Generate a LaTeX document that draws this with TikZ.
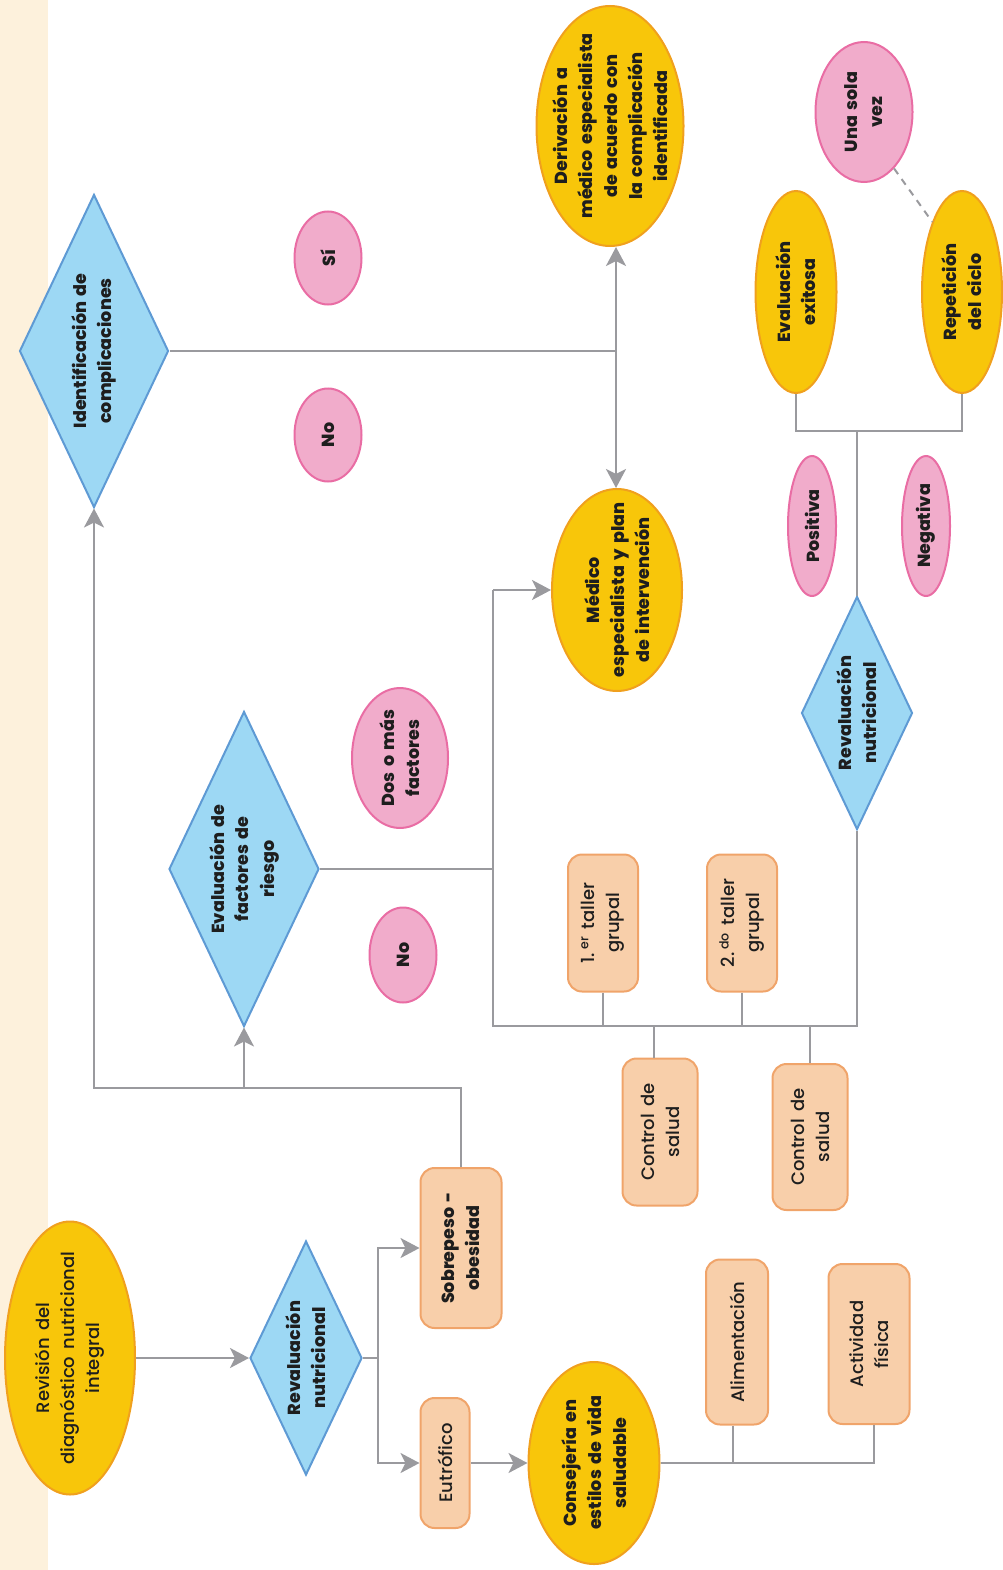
\documentclass[tikz,border=0pt]{standalone}
\usepackage{fontspec}
\setmainfont{Poppins}[UprightFont={Poppins Medium}, BoldFont={Poppins ExtraBold}, WordSpace=1.6]
\usetikzlibrary{shapes.geometric,arrows.meta}
\definecolor{creamC}{HTML}{FDF1DC}
\definecolor{yelF}{HTML}{F8C60A}
\definecolor{yelB}{HTML}{F0A01E}
\definecolor{bluF}{HTML}{9DD8F4}
\definecolor{bluB}{HTML}{5E9AD4}
\definecolor{peaF}{HTML}{F8CFAA}
\definecolor{peaB}{HTML}{F0A46A}
\definecolor{pinF}{HTML}{F1ACCB}
\definecolor{pinB}{HTML}{E96DA4}
\definecolor{gryC}{HTML}{9A9A9E}
\definecolor{txtC}{HTML}{1E1E1E}
\begin{document}
\begin{tikzpicture}[x=1pt,y=-1pt,
  yel/.style={ellipse, draw=yelB, fill=yelF, line width=2pt, inner sep=0pt},
  dia/.style={diamond, draw=bluB, fill=bluF, line width=2pt, inner sep=0pt},
  box/.style={rectangle, rounded corners=14pt, draw=peaB, fill=peaF, line width=2pt, inner sep=0pt},
  lab/.style={ellipse, draw=pinB, fill=pinF, line width=2pt, inner sep=0pt},
  tx/.style={rotate=90, align=center, inner sep=0pt, text=txtC, font=\fontsize{18}{25}\selectfont},
  tb/.style={tx, font=\fontsize{17.5}{25}\selectfont\bfseries},
  con/.style={draw=gryC, line width=2.5pt},
  arr/.style={con, -{Stealth[length=19pt,width=20pt,inset=5pt]}}]
\useasboundingbox (0,0) rectangle (1002,1570);
\fill[creamC] (0,0) rectangle (48,1570);

% shapes
\node[yel, minimum width=130pt, minimum height=273pt] (rev) at (70,1358) {};
\node[dia, minimum width=112pt, minimum height=234pt] (rn1) at (306,1358) {};
\node[box, minimum width=81pt, minimum height=160pt] (sob) at (461,1248) {};
\node[box, minimum width=49pt, minimum height=130pt] (eut) at (445,1463) {};
\node[yel, minimum width=131pt, minimum height=202pt] (cons) at (594,1463) {};
\node[box, minimum width=62pt, minimum height=165pt] (ali) at (737,1342) {};
\node[box, minimum width=81pt, minimum height=160pt] (act) at (869,1344) {};
\node[dia, minimum width=150pt, minimum height=315pt] (efr) at (244,869) {};
\node[dia, minimum width=149pt, minimum height=313pt] (idc) at (94,351) {};
\node[lab, minimum width=67pt, minimum height=93pt] (si) at (328,258) {};
\node[lab, minimum width=67pt, minimum height=93pt] (no1) at (328,435) {};
\node[yel, minimum width=147pt, minimum height=240pt] (der) at (610,126) {};
\node[yel, minimum width=130pt, minimum height=202pt] (med) at (617,590) {};
\node[lab, minimum width=96pt, minimum height=140pt] (dos) at (400,758) {};
\node[lab, minimum width=67pt, minimum height=95pt] (no2) at (403,955) {};
\node[box, minimum width=70pt, minimum height=137pt] (t1) at (603,923) {};
\node[box, minimum width=70pt, minimum height=137pt] (t2) at (742,923) {};
\node[box, minimum width=75pt, minimum height=147pt] (cs1) at (660,1132) {};
\node[box, minimum width=75pt, minimum height=146pt] (cs2) at (810,1137) {};
\node[dia, minimum width=111pt, minimum height=233pt] (rn2) at (857,713) {};
\node[lab, minimum width=48pt, minimum height=140pt] (pos) at (812,526) {};
\node[lab, minimum width=48pt, minimum height=140pt] (neg) at (926,526) {};
\node[yel, minimum width=81pt, minimum height=202pt] (evx) at (796,292) {};
\node[yel, minimum width=80pt, minimum height=202pt] (rep) at (962,292) {};
\node[lab, minimum width=97pt, minimum height=140pt] (una) at (864,112) {};

% texts
\node[tx] (rev-t) at (rev) {Revisión del\\diagnóstico nutricional\\integral};
\node[tb] (rn1-t) at (rn1) {Revaluación\\nutricional};
\node[tb] (sob-t) at (sob) {Sobrepeso -\\obesidad};
\node[tx] (eut-t) at (eut) {Eutrófico};
\node[tb] (cons-t) at (cons) {Consejería en\\estilos de vida\\saludable};
\node[tx] (ali-t) at (ali) {Alimentación};
\node[tx] (act-t) at (act) {Actividad\\física};
\node[tb] (efr-t) at (efr) {Evaluación de\\factores de\\riesgo};
\node[tb] (idc-t) at (idc) {Identificación de\\complicaciones};
\node[tb] (si-t) at (si) {Sí};
\node[tb] (no1-t) at (no1) {No};
\node[tb] (der-t) at (der) {Derivación a\\médico especialista\\de acuerdo con\\la complicación\\identificada};
\node[tb] (med-t) at (med) {Médico\\especialista y plan\\de intervención};
\node[tb] (dos-t) at (dos) {Dos o más\\factores};
\node[tb] (no2-t) at (no2) {No};
\node[tx] (t1-t) at (t1) {1.\,\textsuperscript{er} taller\\grupal};
\node[tx] (t2-t) at (t2) {2.\,\textsuperscript{do} taller\\grupal};
\node[tx] (cs1-t) at (cs1) {Control de\\salud};
\node[tx] (cs2-t) at (cs2) {Control de\\salud};
\node[tb] (rn2-t) at (rn2) {Revaluación\\nutricional};
\node[tb] (pos-t) at (pos) {Positiva};
\node[tb] (neg-t) at (neg) {Negativa};
\node[tb] (evx-t) at (evx) {Evaluación\\exitosa};
\node[tb] (rep-t) at (rep) {Repetición\\del ciclo};
\node[tb] (una-t) at (una) {Una sola\\vez};

% connectors: entry and healthy-weight branch
\draw[arr] (rev.east) -- (rn1.west);
\coordinate (j1) at (378,1358);
\draw[con] (rn1.east) -- (j1);
\draw[arr] (j1) |- (sob.west);
\draw[arr] (j1) |- (eut.west);
\draw[arr] (eut.east) -- (cons.west);
\draw[con] (cons.east) -| ([xshift=5pt]act.south);
\draw[con] ([xshift=-4pt]ali.south) -- ([xshift=-4pt]ali.south |- cons.east);

% overweight branch
\coordinate (j2) at (244,1088);
\draw[con] (sob.north) |- (j2);
\draw[arr] (j2) -- (efr.south);
\draw[arr] (j2) -| (idc.south);

% risk factors
\coordinate (j3) at (493,869);
\coordinate (j4) at (493,1026);
\draw[con] (efr.east) -- (j3);
\draw[con] (j3 |- med.west) -- (j4) -| (rn2.south);
\draw[arr] (j3 |- med.west) -- (med.west);
\draw[con] (t1.south) -- (t1.south |- j4);
\draw[con] (t2.south) -- (t2.south |- j4);
\draw[con] ([xshift=-6pt]cs1.north) -- ([xshift=-6pt]cs1.north |- j4);
\draw[con] (cs2.north) -- (cs2.north |- j4);

% complications
\coordinate (j6) at (616,351);
\draw[con] (idc.east) -- (j6);
\draw[arr] (j6) -- (j6 |- der.south);
\draw[arr] (j6) -- (j6 |- med.north);

% final reassessment
\coordinate (j7) at (857,431);
\draw[con] (rn2.north) -- (j7);
\draw[con] (evx.south) |- (j7) -| (rep.south);
\draw[draw=gryC, line width=2pt, dash pattern=on 7pt off 6pt] (una.-62) -- (rep.113);
\end{tikzpicture}
\end{document}
